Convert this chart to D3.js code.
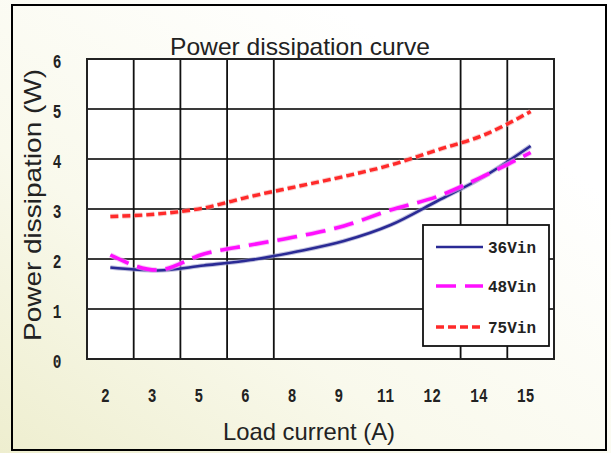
<!DOCTYPE html>
<html><head><meta charset="utf-8">
<script src="https://cdn.jsdelivr.net/npm/d3@7"></script>
<style>html,body{margin:0;padding:0;background:#fff}svg{display:block}</style>
</head><body>
<script>
const categories = ["2","3","5","6","8","9","11","12","14","15"];
const yTicks = [0,1,2,3,4,5,6];
const seriesNames = ["36Vin","48Vin","75Vin"];
const v36 = [1.83,1.77,1.87,1.98,2.15,2.36,2.68,3.16,3.65,4.26];
const v48 = [2.08,1.78,2.10,2.28,2.45,2.66,2.98,3.25,3.66,4.13];
const v75 = [2.85,2.90,3.02,3.25,3.45,3.65,3.88,4.18,4.48,4.95];
const title = "Power dissipation curve";
const xTitle = "Load current (A)";
const yTitle = "Power dissipation (W)";

const W = 611, H = 453;
const svg = d3.select("body").append("svg").attr("width", W).attr("height", H);
const defs = svg.append("defs");
const grad = defs.append("linearGradient").attr("id","bg").attr("x1","0").attr("y1","1").attr("x2","0.75").attr("y2","0.2");
grad.append("stop").attr("offset","0").attr("stop-color","#eeeecf");
grad.append("stop").attr("offset","0.45").attr("stop-color","#f9f9ec");
grad.append("stop").attr("offset","1").attr("stop-color","#ffffff");
svg.append("rect").attr("width",W).attr("height",H).attr("fill","url(#bg)");
svg.append("rect").attr("x",12).attr("y",5).attr("width",594).attr("height",445)
  .attr("fill","none").attr("stroke","#000").attr("stroke-width",2);

const L = 87, R = 554, T = 59, B = 359;
const x = d3.scaleBand().domain(categories).range([L, R]).padding(0);
const y = d3.scaleLinear().domain([0, 6]).range([B, T]);

svg.append("rect").attr("x",L).attr("y",T).attr("width",R-L).attr("height",B-T).attr("fill","#fff");

// horizontal grid
svg.append("g").selectAll("line").data(yTicks.filter(d=>d>0 && d<6)).join("line")
  .attr("x1",L).attr("x2",R).attr("y1",d=>y(d)).attr("y2",d=>y(d))
  .attr("stroke","#3a3a3a").attr("stroke-width",2);
// vertical grid at band boundaries (middle ones absent in the reference)
const bounds = categories.map(c => x(c)).concat([R]);
svg.append("g").selectAll("line").data(bounds.filter((b,i)=> i>0 && i<10 && (i<5 || i>7))).join("line")
  .attr("x1",d=>d).attr("x2",d=>d).attr("y1",T).attr("y2",B)
  .attr("stroke","#111").attr("stroke-width",1.8);
svg.append("rect").attr("x",L).attr("y",T).attr("width",R-L).attr("height",B-T)
  .attr("fill","none").attr("stroke","#222").attr("stroke-width",2);

// axes labels
const tickFont = "'Liberation Mono', 'DejaVu Sans Mono', monospace";
svg.append("g").selectAll("text").data(categories).join("text")
  .attr("transform", d => `translate(${x(d) + x.bandwidth()/2 - 5},402) scale(0.85,1.2)`)
  .attr("text-anchor","middle").attr("font-family",tickFont).attr("font-weight","bold")
  .attr("font-size",17).attr("fill","#222").text(d=>d);
svg.append("g").selectAll("text").data(yTicks).join("text")
  .attr("transform", d => `translate(57,${y(d) + 9}) scale(0.85,1.2)`)
  .attr("text-anchor","middle").attr("font-family",tickFont).attr("font-weight","bold")
  .attr("font-size",17).attr("fill","#222").text(d=>d);

const narrow = "'Liberation Sans Narrow', 'Liberation Sans', Arial, sans-serif";
svg.append("text").attr("x",300).attr("y",55).attr("text-anchor","middle")
  .attr("font-family",narrow).attr("font-size",24).attr("fill","#222")
  .attr("textLength",260).attr("lengthAdjust","spacingAndGlyphs").text(title);
svg.append("text").attr("x",309).attr("y",440).attr("text-anchor","middle")
  .attr("font-family",narrow).attr("font-size",24).attr("fill","#222")
  .attr("textLength",172).attr("lengthAdjust","spacingAndGlyphs").text(xTitle);
svg.append("text").attr("transform","translate(41,205) rotate(-90)").attr("text-anchor","middle")
  .attr("font-family",narrow).attr("font-size",24).attr("fill","#222")
  .attr("textLength",272).attr("lengthAdjust","spacingAndGlyphs").text(yTitle);

// series
const line = d3.line().x((d,i)=> x(categories[i]) + x.bandwidth()/2).y(d=>y(d)).curve(d3.curveMonotoneX);
const styles = [
  {vals:v36, color:"#2a2a95", halo:"#9a9ac8", w:2.6, dash:null},
  {vals:v48, color:"#ff10ff", halo:"#f0b0f0", w:3.6, dash:"20,9"},
  {vals:v75, color:"#ff2a2a", halo:"#f4b0b0", w:3.4, dash:"8,4"}
];
const gl = svg.append("g");
styles.forEach(s => {
  gl.append("path").datum(s.vals).attr("d",line).attr("fill","none")
    .attr("stroke",s.halo).attr("stroke-width",s.w+2).attr("stroke-dasharray",s.dash).attr("opacity",0.6);
  gl.append("path").datum(s.vals).attr("d",line).attr("fill","none")
    .attr("stroke",s.color).attr("stroke-width",s.w).attr("stroke-dasharray",s.dash);
});

// legend
const lg = svg.append("g");
lg.append("rect").attr("x",423).attr("y",225).attr("width",126).attr("height",121)
  .attr("fill","#fff").attr("stroke","#111").attr("stroke-width",1.8);
const rowY = [247,286,327];
styles.forEach((s,i) => {
  lg.append("line").attr("x1",436).attr("x2",483).attr("y1",rowY[i]).attr("y2",rowY[i])
    .attr("stroke",s.color).attr("stroke-width",s.w).attr("stroke-dasharray",s.dash);
  lg.append("text").attr("x",488).attr("y",rowY[i]+6).attr("font-family",tickFont)
    .attr("font-weight","bold").attr("font-size",16).attr("fill","#222").text(seriesNames[i]);
});
</script>
</body></html>
